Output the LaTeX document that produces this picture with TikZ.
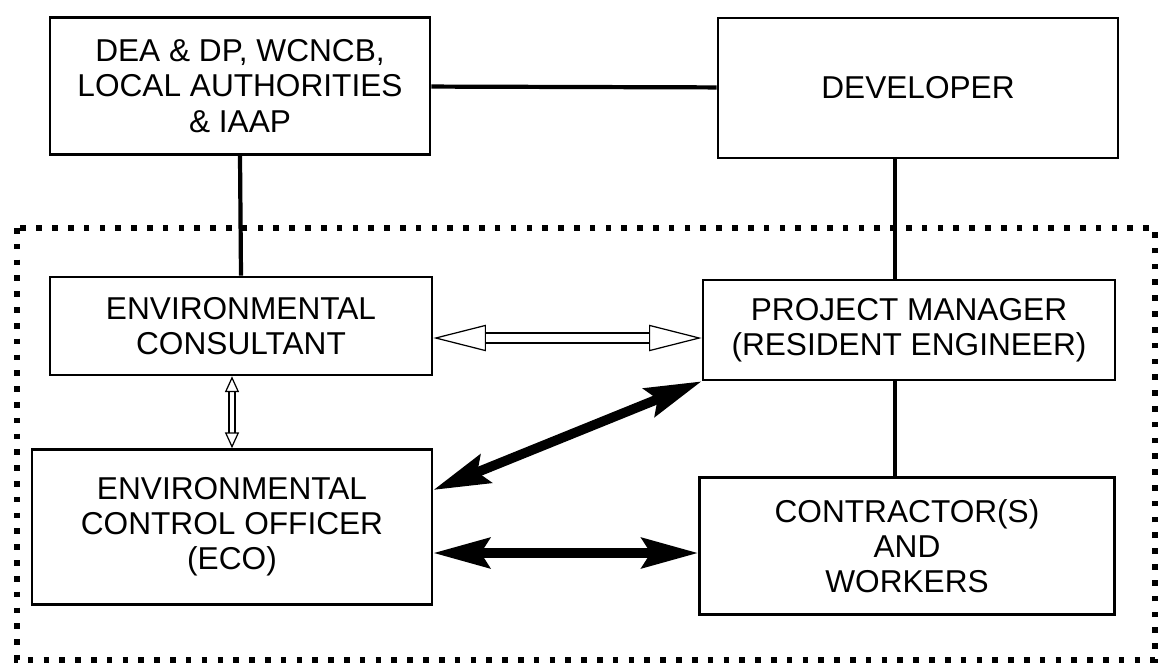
\documentclass[tikz,border=0pt]{standalone}
\usepackage{fontspec}
\setmainfont{Liberation Sans}
\usetikzlibrary{arrows.meta}

\begin{document}
\begin{tikzpicture}[
  x=0.02cm, y=-0.02cm,
  font=\fontsize{18}{20}\selectfont,
  box/.style={draw, line width=1.5pt, align=center, inner sep=0pt, fill=white},
  link/.style={line width=2.4pt},
  hollow/.style={double, double distance=5pt, line width=0.7pt,
                 {Triangle[open, fill=white, length=30pt, width=15pt]}-{Triangle[open, fill=white, length=30pt, width=15pt]}},
  hollowsmall/.style={double, double distance=2.6pt, line width=0.7pt,
                 {Triangle[open, fill=white, length=9pt, width=8pt]}-{Triangle[open, fill=white, length=9pt, width=8pt]}},
  heavy/.style={line width=5.5pt,
                {Stealth[length=32pt, width=17pt, inset=5pt]}-{Stealth[length=32pt, width=17pt, inset=5pt]}},
  frame/.style={line width=3.2pt, dash pattern=on 3.2pt off 5.8pt}
]
\useasboundingbox (0,0) rectangle (1164,664);

% ---------- kotak atas ----------
\node[box, minimum width=7.6cm, minimum height=2.74cm] (dea) at (240,86)
     {DEA \& DP, WCNCB,\\ LOCAL AUTHORITIES\\ \& IAAP};
\node[box, minimum width=8.0cm, minimum height=2.8cm]  (dev) at (918,88) {DEVELOPER};

% ---------- kotak dalam bingkai ----------
\node[box, minimum width=7.64cm, minimum height=1.96cm] (cons) at (241,326)
     {ENVIRONMENTAL\\ CONSULTANT};
\node[box, minimum width=8.24cm, minimum height=2.0cm]  (pm)   at (909,330)
     {PROJECT MANAGER\\ (RESIDENT ENGINEER)};
\node[box, minimum width=8.0cm, minimum height=3.1cm]   (eco)  at (232,527)
     {ENVIRONMENTAL\\ CONTROL OFFICER\\ (ECO)};
\node[box, minimum width=8.3cm, minimum height=2.74cm]  (con)  at (907,546)
     {CONTRACTOR(S)\\ AND\\ WORKERS};

% ---------- titik bantu ----------
\coordinate (spine) at (895,0);
\coordinate (hy)    at (0,338);
\coordinate (dy)    at (0,490);
\coordinate (ey)    at (0,553);

% ---------- garis hubung ----------
\draw[link] (dea) -- (dev);
\draw[link] (dea.south) -- (cons.north);
\draw[link] (dev.south -| spine) -- (pm.north -| spine);
\draw[link] (pm.south -| spine) -- (con.north -| spine);

% ---------- panah dua arah ----------
\draw[hollow] (cons.east |- hy) -- (pm.west |- hy);
\draw[hollowsmall] (eco.north |- cons.south) -- (eco.north);
\draw[heavy] (eco.east |- dy) -- (pm.south west);
\draw[heavy] (eco.east |- ey) -- (con.west |- ey);

% ---------- bingkai titik-titik ----------
\draw[frame] (17,228) rectangle (1155,660);

\end{tikzpicture}
\end{document}
